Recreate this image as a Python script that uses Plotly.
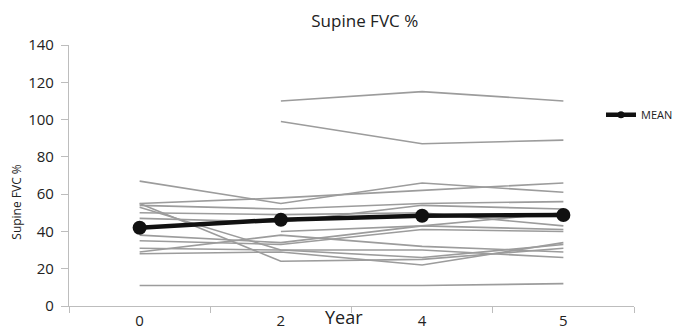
import plotly.graph_objects as go

years = ["0", "2", "4", "5"]

patients = [
    [None, 110, 115, 110],
    [None, 99, 87, 89],
    [67, 55, 66, 61],
    [55, 58, 62, 66],
    [54, 52, 55, 56],
    [53, 30, 26, 33],
    [55, 24, 25, 31],
    [50, 49, 50, 43],
    [47, 45, 54, 52],
    [None, 40, 43, 50],
    [38, 34, 43, 41],
    [35, 33, 41, 40],
    [29, 38, 32, 29],
    [28, 29, 22, 34],
    [31, 30, 30, 26],
    [11, 11, 11, 12],
]

mean_values = [42, 46.3, 48.4, 48.8]

W, H = 673, 330
L, R, T, B = 69, 39, 45, 23.5
PW, PH = W - L - R, H - T - B

fig = go.Figure()
for p in patients:
    fig.add_trace(go.Scatter(
        x=years, y=p, mode="lines",
        line=dict(color="#9c9c9c", width=1.6),
        showlegend=False, hoverinfo="skip",
    ))

fig.add_trace(go.Scatter(
    x=years, y=mean_values, mode="lines+markers", name="MEAN",
    line=dict(color="#111111", width=4.5),
    marker=dict(color="#111111", size=14),
    showlegend=False,
))
# legend entry (smaller marker, as in the reference)
fig.add_trace(go.Scatter(
    x=[None], y=[None], mode="lines+markers", name="MEAN",
    line=dict(color="#111111", width=4.5),
    marker=dict(color="#111111", size=7),
))

fig.update_layout(
    width=W, height=H,
    margin=dict(l=L, r=R, t=T, b=B, autoexpand=False),
    paper_bgcolor="white", plot_bgcolor="white",
    font=dict(family="Open Sans", color="#222222"),
    title=dict(text="Supine FVC %", xref="container", x=0.542, xanchor="center",
               yref="container", y=0.935, yanchor="middle",
               font=dict(size=17, color="#222222")),
    showlegend=True,
    legend=dict(x=(601 - L) / PW, y=(H - B - 115) / PH, xanchor="left", yanchor="middle",
                font=dict(size=11, color="#222222"), bgcolor="rgba(0,0,0,0)",
                itemsizing="trace"),
    xaxis=dict(
        type="category", showgrid=False, zeroline=False, automargin=False,
        showline=True, linecolor="#bdbdbd", linewidth=1.2,
        ticks="outside", tickson="boundaries", ticklen=6, tickcolor="#bdbdbd",
        tickfont=dict(size=15, color="#222222"), ticklabelstandoff=1,
        range=[-0.5, 3.5],
    ),
    yaxis=dict(
        range=[0, 140], dtick=20, showgrid=False, zeroline=False, automargin=False,
        showline=True, linecolor="#bdbdbd", linewidth=1.2,
        ticks="outside", ticklen=7, tickcolor="#bdbdbd",
        tickfont=dict(size=15, color="#222222"), ticklabelstandoff=4,
    ),
    annotations=[
        dict(text="Year", xref="paper", yref="paper", x=(344 - L) / PW, y=(H - B - 318) / PH,
             xanchor="center", yanchor="middle", showarrow=False,
             font=dict(size=18, color="#222222")),
        dict(text="Supine FVC %", xref="paper", yref="paper", x=(17 - L) / PW, y=(H - B - 202) / PH,
             xanchor="center", yanchor="middle", showarrow=False, textangle=-90,
             font=dict(size=12, color="#222222")),
    ],
)

fig.write_html("out.html", config={"displayModeBar": False},
               post_script="document.body.style.margin='0';")
